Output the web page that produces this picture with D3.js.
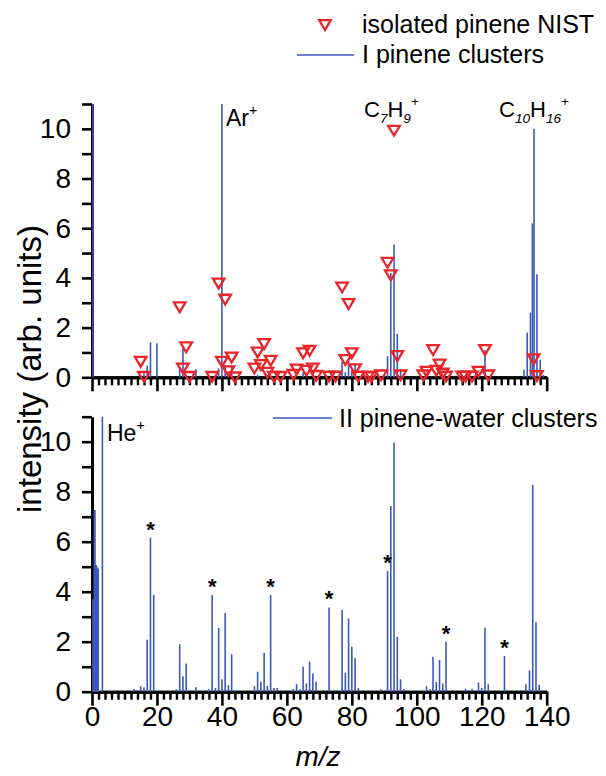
<!DOCTYPE html>
<html><head><meta charset="utf-8">
<script src="https://cdn.jsdelivr.net/npm/d3@7"></script>
<style>
body{margin:0;background:#fff}
svg{display:block}
text{font-family:"Liberation Sans",Arial,Helvetica,sans-serif;fill:#000}
</style>
</head><body>
<svg id="c" width="606" height="776"></svg>
<script>
// ---------------- DATA ----------------
const xMajorTicks = [0, 20, 40, 60, 80, 100, 120, 140];
const yLabelTicks = [0, 2, 4, 6, 8, 10];

// I pinene clusters (top panel)
const topMz  = [0.3, 16, 17, 18, 20, 27, 28, 32, 39, 40, 41, 43, 51, 54, 65, 77, 78, 79, 80, 81,
                90, 91, 92, 93, 94, 95, 121, 133, 134, 135, 135.6, 136.1, 137, 138, 139];
const topInt = [11, 0.16, 0.47, 1.41, 1.37, 0.35, 1.23, 0.32, 0.36, 11, 0.5, 0.45, 0.1, 0.1, 0.2, 0.63, 0.2, 0.7, 0.25, 0.56,
                0.1, 0.85, 4.2, 5.35, 1.75, 0.3, 1.1, 0.3, 1.8, 2.6, 6.2, 10.0, 4.15, 0.7, 0.1];

// isolated pinene NIST (top panel, triangles)
const nistMz  = [15, 16, 27, 28, 29, 30, 37, 39, 40, 41, 42, 43, 44, 50, 51, 52, 53, 54, 55, 56, 58,
                 62, 63, 65, 66, 67, 68, 69, 73, 75, 77, 78, 79, 80, 81, 82, 85, 86, 89,
                 91, 92, 93, 94, 95, 102, 103, 105, 106, 107, 108, 109, 114, 115, 117, 119, 121, 122, 136, 137];
const nistInt = [0.63, 0.02, 2.82, 0.36, 1.21, 0.02, 0.02, 3.78, 0.63, 3.13, 0.25, 0.8, 0.0, 0.36, 1.0, 0.5, 1.34, 0.19, 0.67, 0.02, 0.02,
                 0.1, 0.32, 0.97, 0.27, 1.07, 0.36, 0.06, 0.03, 0.03, 3.62, 0.7, 2.95, 0.97, 0.33, 0.03, 0.02, 0.02, 0.08,
                 4.61, 4.11, 9.93, 0.86, 0.08, 0.08, 0.23, 1.1, 0.27, 0.52, 0.15, 0.03, 0.03, 0.03, 0.03, 0.23, 1.1, 0.08, 0.73, 0.05];

// II pinene-water clusters (bottom panel)
const botMz  = [0.3, 0.5, 0.7, 0.9, 1.1, 1.3, 1.5, 1.7, 1.9, 3.2, 13, 15, 16, 17, 18, 19, 26, 27, 28, 29, 32,
                36, 37, 38, 39, 40, 41, 42, 43, 44, 50, 51, 52, 53, 54, 55, 56, 57, 59, 62, 63, 64, 65, 66, 67, 68, 69,
                73, 75, 77, 78, 79, 80, 81, 82, 89, 91, 92, 93, 94, 95, 96, 103, 104, 105, 106, 107, 108, 109,
                115, 117, 119, 120, 121, 122, 127, 133.6, 134.7, 135.7, 136.7, 137.7];
const botInt = [3.7, 3.7, 7.27, 7.27, 5.07, 5.07, 5.0, 4.93, 4.93, 11, 0.1, 0.22, 0.18, 2.08, 6.16, 3.87, 0.1, 1.9, 0.62, 1.13, 0.18,
                0.1, 3.87, 0.15, 2.55, 0.5, 3.15, 0.26, 1.5, 0.05, 0.22, 0.8, 0.4, 1.56, 0.23, 3.87, 0.15, 0.15, 0.05, 0.1, 0.3, 0.1, 1.0, 0.33, 1.2, 0.73, 0.4,
                3.37, 0.05, 3.27, 0.76, 2.93, 1.8, 1.35, 0.15, 0.1, 4.83, 7.43, 9.97, 2.2, 0.5, 0.1, 0.22, 0.1, 1.4, 0.39, 1.27, 0.33, 2.0,
                0.12, 0.12, 0.37, 0.15, 2.56, 0.3, 1.43, 0.3, 0.85, 8.27, 2.78, 0.27];

// water cluster peaks marked with *
const starMz = [18, 37, 55, 73, 91, 109, 127];

// ---------------- DRAW ----------------
const BLUE = "#3a59bc", RED = "#e8262a";
const svg = d3.select("#c");
svg.append("rect").attr("width", 606).attr("height", 776).attr("fill", "#fff");

const x = d3.scaleLinear().domain([0, 140]).range([92, 546.7]);
const yTop = d3.scaleLinear().domain([0, 11]).range([377.3, 104]);
const yBot = d3.scaleLinear().domain([0, 11]).range([691.7, 416.7]);

function styleAxis(g, w) {
  g.select(".domain").attr("stroke", "#000").attr("stroke-width", 3);
  g.selectAll(".tick line").attr("stroke", "#000").attr("stroke-width", w);
}

function drawAxes(y, withLabels) {
  const y0 = y(0);
  const minor = svg.append("g").attr("transform", `translate(0,${y0})`)
    .call(d3.axisBottom(x).tickValues(d3.range(0, 141, 2).filter(v => v % 20 !== 0)).tickSize(8).tickSizeOuter(0).tickFormat(""));
  styleAxis(minor, 2.4);
  const major = svg.append("g").attr("transform", `translate(0,${y0})`)
    .call(d3.axisBottom(x).tickValues(xMajorTicks).tickSize(14).tickSizeOuter(0).tickPadding(0)
      .tickFormat(withLabels ? d3.format("d") : ""));
  styleAxis(major, 2.6);
  major.selectAll("text").attr("font-size", 28).attr("font-family", '"Liberation Sans",Arial,sans-serif').attr("fill", "#000");
  const ya = svg.append("g").attr("transform", `translate(${x(0)},0)`)
    .call(d3.axisLeft(y).tickValues(d3.range(0, 12)).tickSize(10).tickSizeOuter(0).tickPadding(11)
      .tickFormat(d => yLabelTicks.includes(d) ? d : ""));
  styleAxis(ya, 2.6);
  ya.selectAll("text").attr("font-size", 28).attr("font-family", '"Liberation Sans",Arial,sans-serif').attr("fill", "#000");
  ya.select(".domain").attr("stroke-width", 3);
}

drawAxes(yTop, false);
drawAxes(yBot, true);

function drawSticks(mz, val, y) {
  const pts = mz.map((m, i) => ({m, v: val[i]}));
  svg.append("g").selectAll("line").data(pts).join("line")
    .attr("x1", d => x(d.m)).attr("x2", d => x(d.m))
    .attr("y1", y(0)).attr("y2", d => y(Math.min(d.v, 11)))
    .attr("stroke", BLUE).attr("stroke-width", 1.6);
}
drawSticks(topMz, topInt, yTop);
drawSticks(botMz, botInt, yBot);

// triangles
const tri = "M-5.8,-4.8L5.8,-4.8L0,5Z";
svg.append("g").selectAll("path").data(nistMz.map((m, i) => ({m, v: nistInt[i]}))).join("path")
  .attr("d", tri)
  .attr("transform", d => `translate(${x(d.m)},${yTop(d.v)})`)
  .attr("fill", "none").attr("stroke", RED).attr("stroke-width", 2.3);

// stars
svg.append("g").selectAll("text").data(starMz).join("text")
  .attr("x", d => x(d))
  .attr("y", d => yBot(botInt[botMz.indexOf(d)]) - 1)
  .attr("text-anchor", "middle").attr("font-size", 22).attr("font-weight", "bold")
  .text("*");

// peak annotations
function ion(xp, yp, parts, fs) {
  const t = svg.append("text").attr("x", xp).attr("y", yp).attr("font-size", fs);
  let cur = 0;
  parts.forEach(p => {
    const shift = p.type === "sub" ? 6 : p.type === "sup" ? -11 : 0;
    const ts = t.append("tspan").attr("dy", shift - cur).text(p.t);
    if (p.type !== "n") ts.attr("font-size", fs * 0.62);
    if (p.type === "sub") ts.attr("font-style", "italic");
    cur = shift;
  });
}
ion(226, 126, [{t: "Ar", type: "n"}, {t: "+", type: "sup"}], 23);
ion(364, 117, [{t: "C", type: "n"}, {t: "7", type: "sub"}, {t: "H", type: "n"}, {t: "9", type: "sub"}, {t: "+", type: "sup"}], 22);
ion(499, 117, [{t: "C", type: "n"}, {t: "10", type: "sub"}, {t: "H", type: "n"}, {t: "16", type: "sub"}, {t: "+", type: "sup"}], 22);
ion(107, 441, [{t: "He", type: "n"}, {t: "+", type: "sup"}], 23);

// legends
svg.append("path").attr("d", tri).attr("transform", "translate(325,25)")
  .attr("fill", "none").attr("stroke", RED).attr("stroke-width", 2.3);
svg.append("text").attr("x", 362).attr("y", 33).attr("font-size", 25).text("isolated pinene NIST");
svg.append("line").attr("x1", 297).attr("x2", 354).attr("y1", 55).attr("y2", 55).attr("stroke", BLUE).attr("stroke-width", 1.6);
svg.append("text").attr("x", 362).attr("y", 63).attr("font-size", 25).text("I pinene clusters");
svg.append("line").attr("x1", 273).attr("x2", 332).attr("y1", 418).attr("y2", 418).attr("stroke", BLUE).attr("stroke-width", 1.6);
svg.append("text").attr("x", 339).attr("y", 427).attr("font-size", 25).text("II pinene-water clusters");

// axis titles
svg.append("text").attr("transform", "translate(41,369) rotate(-90)").attr("text-anchor", "middle")
  .attr("font-size", 33).text("intensity (arb. units)");
svg.append("text").attr("x", 318).attr("y", 766).attr("text-anchor", "middle")
  .attr("font-size", 28).attr("font-style", "italic").text("m/z");
</script>
</body></html>
